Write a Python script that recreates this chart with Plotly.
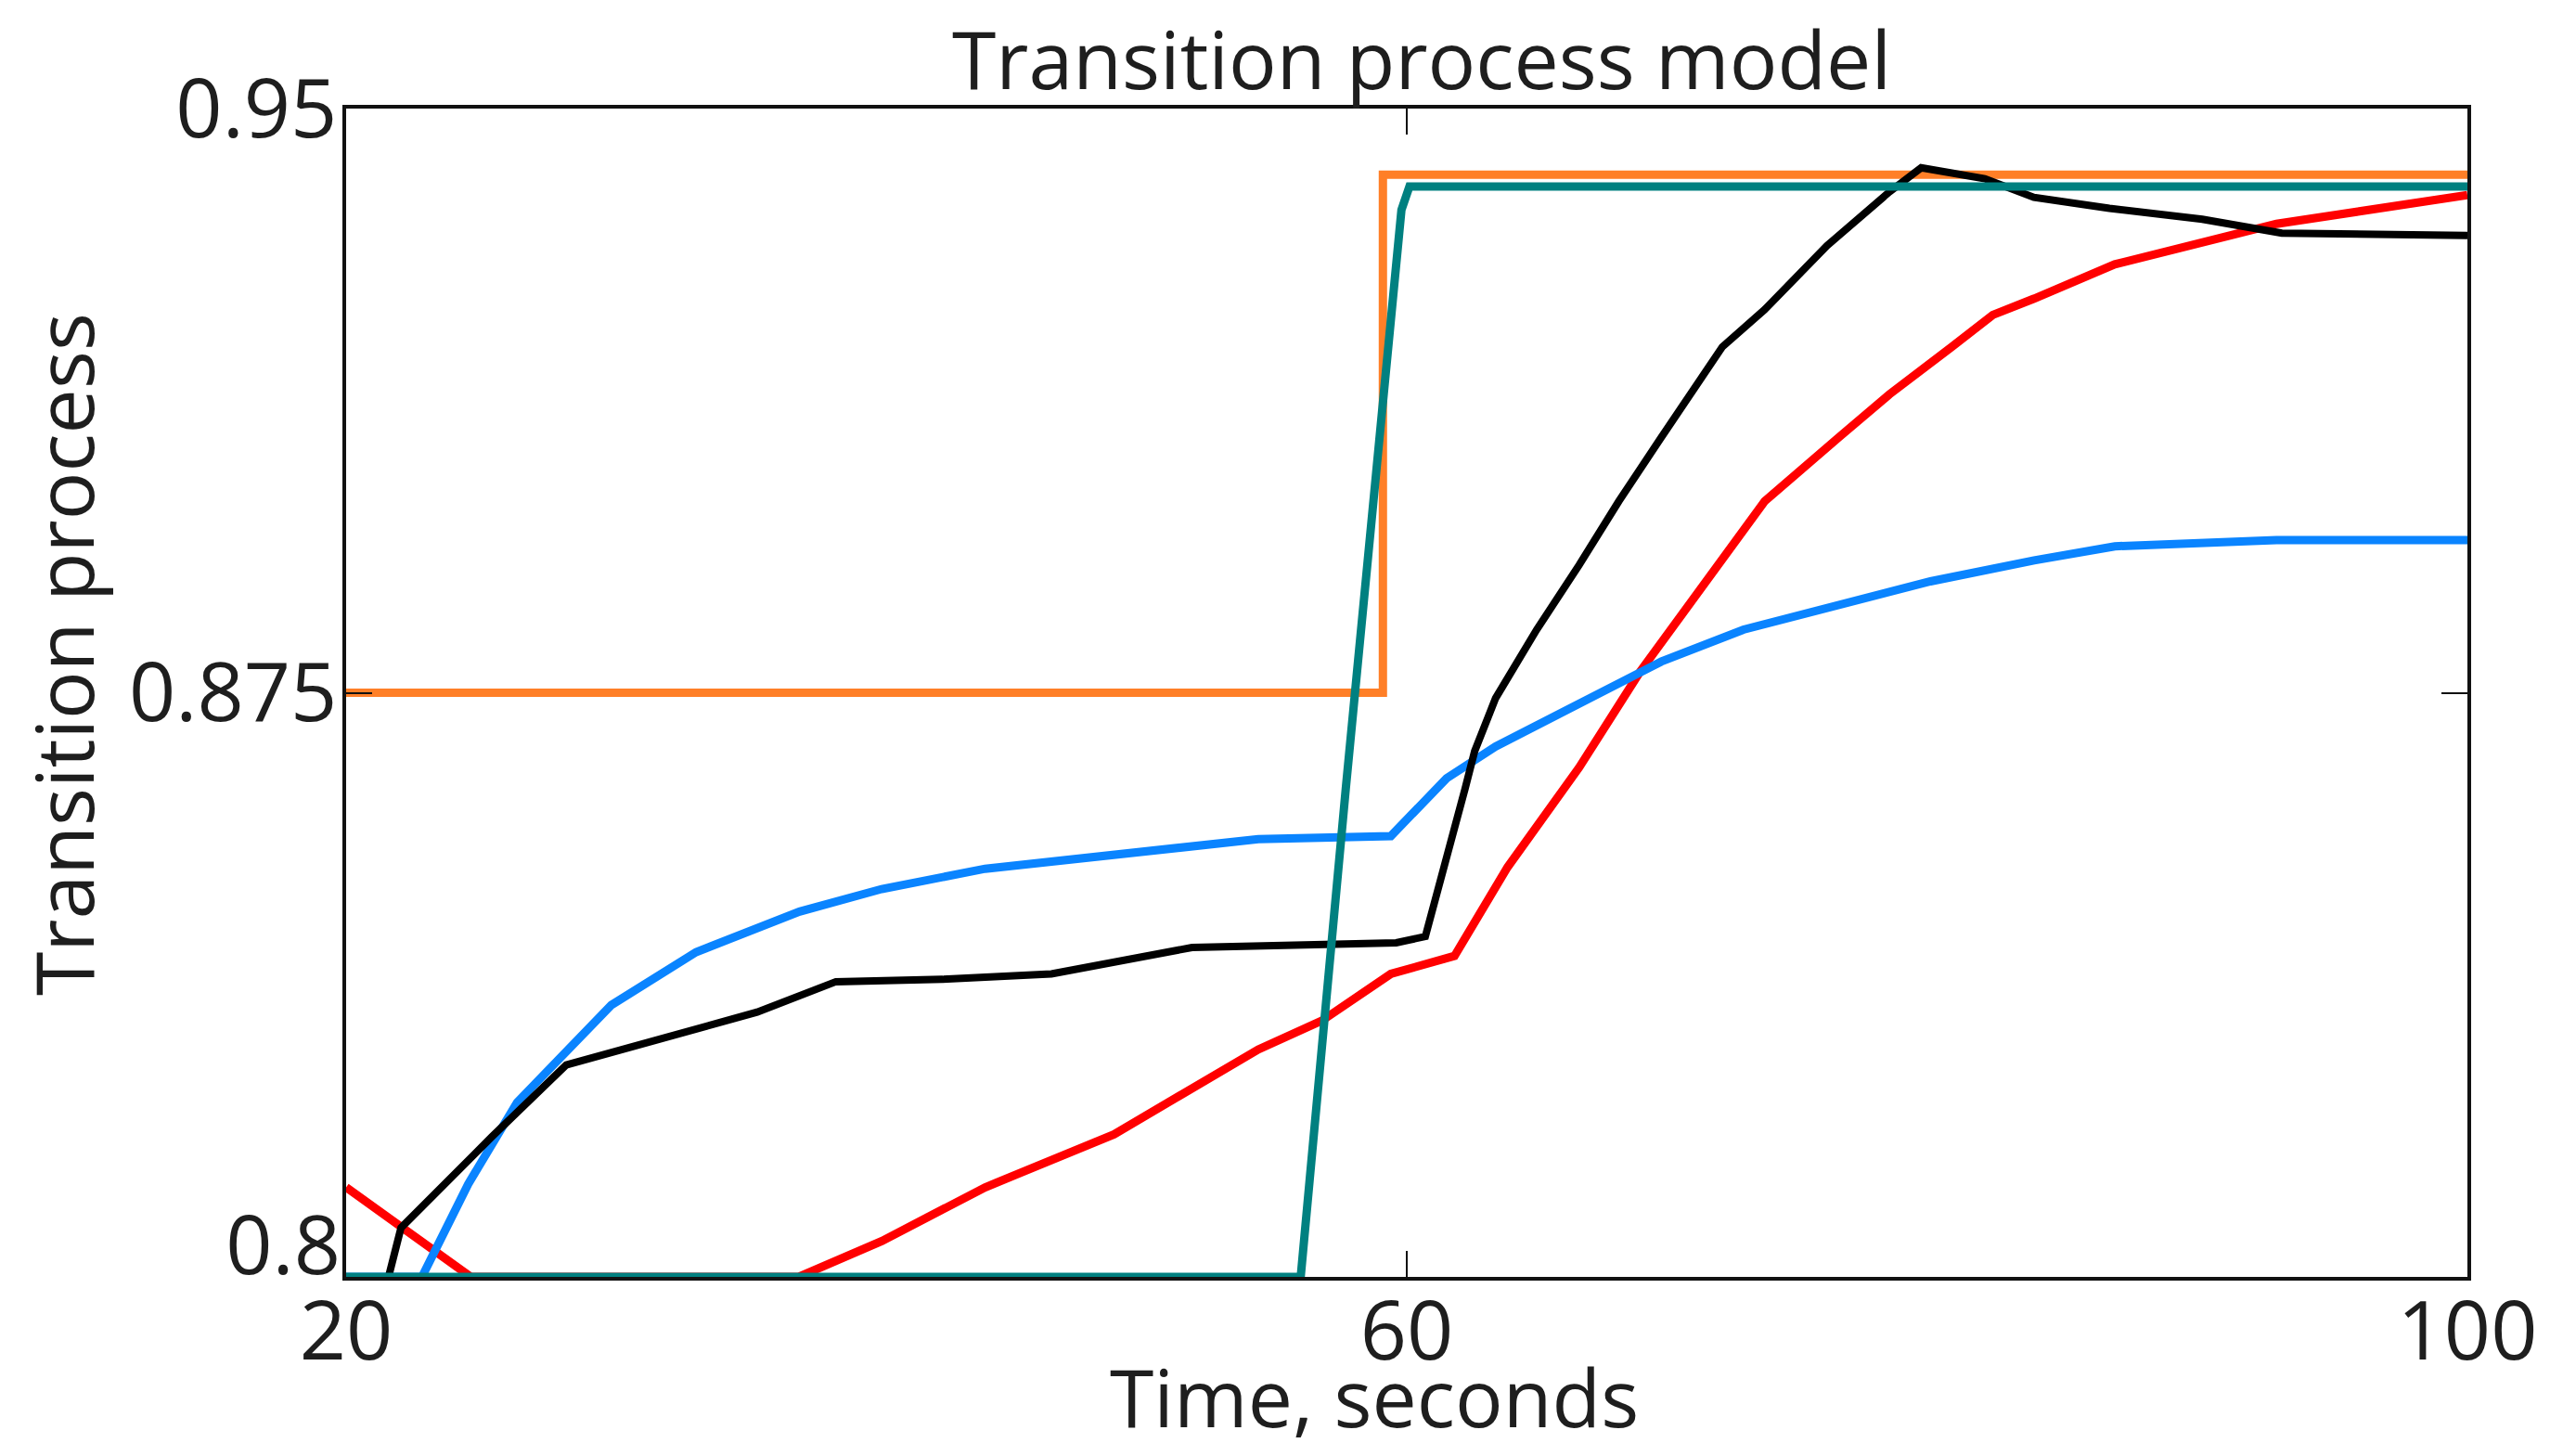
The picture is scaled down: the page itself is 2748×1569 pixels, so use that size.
import plotly.graph_objects as go

# Data (time in seconds, transition process values)
orange_t = [20, 59.1, 59.1, 100]
orange_y = [0.875, 0.875, 0.9415, 0.9415]

teal_t = [20, 56.0, 57.7, 59.8, 60.1, 100]
teal_y = [0.8, 0.8, 0.8627, 0.9370, 0.9400, 0.9400]

black_t = [20, 21.6, 22.07, 25.5, 28.3, 32.4, 35.5, 38.47, 42.5, 46.6, 51.9, 59.6, 60.7, 62.2, 62.56, 63.35, 64.9, 66.5, 68.0, 69.6,
           71.2, 71.9, 73.5, 75.85, 78.2, 79.4, 81.8, 83.65, 86.5, 90.0, 93.0, 100]
black_y = [0.8, 0.8, 0.8063, 0.8180, 0.8272, 0.8312, 0.8340, 0.8379, 0.8382, 0.8389, 0.8423, 0.8429, 0.8437, 0.8627, 0.8675, 0.8743, 0.8831, 0.8914, 0.8996, 0.9078,
           0.9160, 0.9194, 0.9242, 0.9324, 0.9393, 0.9424, 0.9410, 0.9386, 0.9372, 0.9358, 0.9340, 0.9337]

red_t = [20, 24.7, 37.07, 40.2, 44.1, 48.96, 54.4, 56.8, 59.4, 61.8, 63.8, 66.5, 68.8, 71.2, 73.5, 76.3, 78.2, 80.55, 82.1, 83.66, 86.7, 92.8, 100]
red_y = [0.8115, 0.8, 0.8, 0.8046, 0.8115, 0.8183, 0.8292, 0.8329, 0.8389, 0.8412, 0.8526, 0.8654, 0.8777, 0.8887, 0.8996, 0.9078, 0.9133, 0.9194, 0.9235, 0.9256, 0.9300, 0.9352, 0.9389]

blue_t = [20, 22.86, 24.6, 26.45, 30.0, 33.2, 37.1, 40.2, 44.1, 48.2, 54.4, 59.4, 61.5, 63.35, 66.5, 69.6, 72.7, 76.6, 79.75, 83.66, 86.7, 92.8, 100]
blue_y = [0.8, 0.8, 0.8119, 0.8224, 0.8349, 0.8417, 0.8469, 0.8498, 0.8524, 0.8540, 0.8562, 0.8566, 0.8640, 0.8681, 0.8736, 0.8790, 0.8831, 0.8866, 0.8893, 0.8920, 0.8938, 0.8946, 0.8946]

x_ticks = [20, 60, 100]
y_ticks_upper = [0.875, 0.95]
y_tick_labels_upper = ["0.875", "0.95"]
y_tick_lower = [0.8]
y_tick_label_lower = ["0.8"]

FONT = "Open Sans"
TXT = "#1e1e1e"
TICK_SIZE = 88

# page body has an 8px default margin -> figure is drawn 8px smaller and offset
W, H = 2740, 1561
L, T = 365, 109          # plot area left/top inside the figure
PW, PH = 2286, 1259      # plot area size

fig = go.Figure()
series = [
    (orange_t, orange_y, "#FF7F27", 9),
    (red_t, red_y, "#FF0000", 9),
    (blue_t, blue_y, "#0A84FF", 9),
    (black_t, black_y, "#000000", 8),
    (teal_t, teal_y, "#008080", 9),
]
for t, y, c, w in series:
    fig.add_trace(go.Scatter(x=t, y=y, mode="lines", line=dict(color=c, width=w),
                             showlegend=False, cliponaxis=True))

fig.update_layout(
    width=W, height=H,
    paper_bgcolor="white", plot_bgcolor="white",
    margin=dict(l=L, r=W - L - PW, t=T, b=H - T - PH, autoexpand=False),
    font=dict(family=FONT, size=86, color=TXT),
    title=dict(text="Transition process model", x=0.507, xref="paper", xanchor="center",
               y=1 - 58 / H, yref="container", yanchor="middle",
               font=dict(family=FONT, size=86, color=TXT)),
    annotations=[
        dict(text="Time, seconds", xref="paper", yref="paper",
             x=(1481 - 373) / PW, y=(1376 - 1504) / PH, xanchor="center", yanchor="middle",
             showarrow=False, font=dict(family=FONT, size=86, color=TXT)),
        dict(text="Transition process", xref="paper", yref="paper", textangle=-90,
             x=(68 - 373) / PW, y=(1376 - 705) / PH, xanchor="center", yanchor="middle",
             showarrow=False, font=dict(family=FONT, size=86, color=TXT)),
    ],
)
fig.update_xaxes(
    range=[20, 100], tickvals=x_ticks, ticktext=[str(v) for v in x_ticks],
    showgrid=False, zeroline=False, showline=True, linecolor="#111111", linewidth=4,
    mirror="ticks", ticks="inside", ticklen=28, tickwidth=2, tickcolor="#111111",
    tickfont=dict(family=FONT, size=TICK_SIZE, color=TXT), ticklabelstandoff=-21,
    automargin=False,
)
fig.update_layout(
    yaxis=dict(
        range=[0.8, 0.95], tickvals=y_ticks_upper, ticktext=y_tick_labels_upper,
        showgrid=False, zeroline=False, showline=True, linecolor="#111111", linewidth=4,
        mirror="ticks", ticks="inside", ticklen=28, tickwidth=2, tickcolor="#111111",
        tickfont=dict(family=FONT, size=TICK_SIZE, color=TXT), ticklabelstandoff=-12,
        automargin=False,
    ),
    yaxis2=dict(
        range=[0.8, 0.95], overlaying="y", side="left", tickvals=y_tick_lower, ticktext=y_tick_label_lower,
        showgrid=False, zeroline=False, showline=False, ticks="",
        tickfont=dict(family=FONT, size=TICK_SIZE, color=TXT), ticklabelstandoff=5,
        ticklabelshift=-34, automargin=False,
    ),
)
# invisible anchor trace so the second y-axis is drawn
fig.add_trace(go.Scatter(x=[20], y=[0.8], yaxis="y2", mode="markers",
                         marker=dict(opacity=0), showlegend=False, hoverinfo="skip"))

fig.write_html("out.html")
